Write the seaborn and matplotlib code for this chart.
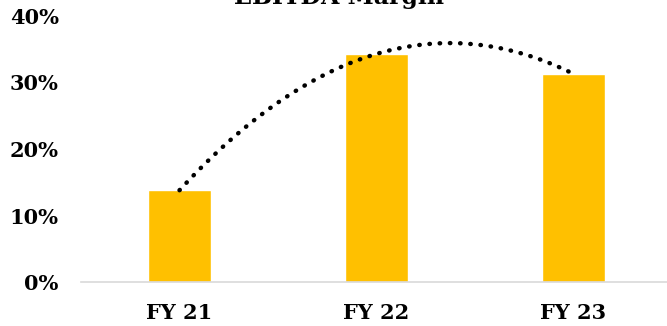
import numpy as np
import pandas as pd
import matplotlib
matplotlib.use("Agg")
import matplotlib.pyplot as plt
import seaborn as sns
from matplotlib.ticker import PercentFormatter

categories = ["FY 21", "FY 22", "FY 23"]
margins = [13.8, 34.3, 31.3]
yticks = [0, 10, 20, 30, 40]
title = "EBITDA Margin"

sns.set_theme(style="white")
plt.rcParams["font.family"] = ["DejaVu Serif"]
plt.rcParams["font.weight"] = "bold"

df = pd.DataFrame({"Year": categories, "Margin": margins})

fig = plt.figure(figsize=(6.67, 3.26), dpi=100)
ax = fig.add_axes([81 / 667, 1 - 282 / 326, 591 / 667, 266 / 326])

sns.barplot(data=df, x="Year", y="Margin", color="#FFC000", saturation=1,
            width=0.315, ax=ax)

# polynomial (order 2) trendline through the bar values
xs = np.arange(len(margins))
coef = np.polyfit(xs, margins, 2)
xf = np.linspace(0, len(margins) - 1, 200)
ax.plot(xf, np.polyval(coef, xf), color="black", linestyle=(0, (0.1, 2.2)),
        linewidth=3.2, dash_capstyle="round", solid_capstyle="round")

ax.set_xlim(-0.5, 2.5)
ax.set_ylim(0, 40)
ax.set_yticks(yticks)
ax.yaxis.set_major_formatter(PercentFormatter(decimals=0))
ax.set_xlabel("")
ax.set_ylabel("")
for s in ["top", "right", "left"]:
    ax.spines[s].set_visible(False)
ax.spines["bottom"].set_color("#D9D9D9")
ax.spines["bottom"].set_linewidth(1.2)
ax.tick_params(axis="both", length=0, labelsize=15, colors="black")
ax.tick_params(axis="y", pad=16)
ax.tick_params(axis="x", pad=15)
for lab in ax.get_xticklabels() + ax.get_yticklabels():
    lab.set_fontweight("bold")

fig.text(339 / 667, 1 - 4 / 326, title, ha="center", va="baseline",
         fontsize=17, fontweight="bold", color="black")

fig.savefig("out.png", dpi=100)
